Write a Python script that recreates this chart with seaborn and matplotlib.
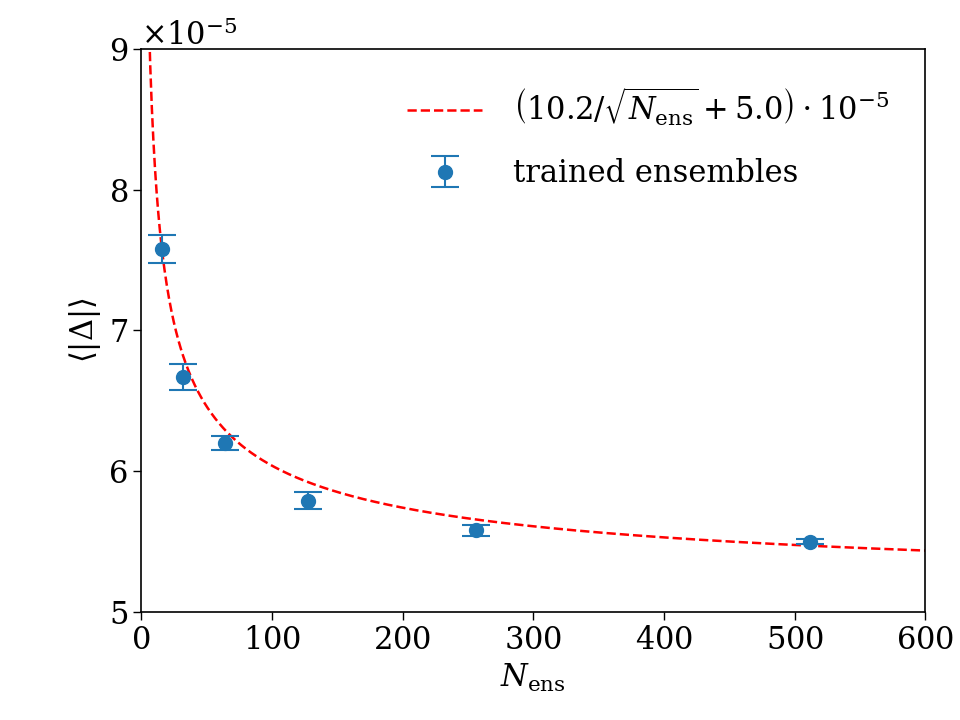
import numpy as np
import pandas as pd
import matplotlib
matplotlib.use("Agg")
import matplotlib.pyplot as plt
import seaborn as sns

# ensemble sizes and mean |Delta| (units of 1e-5)
n_ens = [16, 32, 64, 128, 256, 512]
mean_delta = [7.58, 6.67, 6.20, 5.79, 5.58, 5.50]
err_delta = [0.10, 0.09, 0.05, 0.06, 0.04, 0.02]

# fit parameters (legend shows them rounded)
fit_a = 10.2
fit_b = 5.02

sns.set_style("ticks")
plt.rcParams["font.family"] = ["DejaVu Serif"]
plt.rcParams["mathtext.fontset"] = "dejavuserif"
plt.rcParams["axes.formatter.use_mathtext"] = True
plt.rcParams["text.color"] = "black"
plt.rcParams["axes.labelcolor"] = "black"
plt.rcParams["xtick.color"] = "black"
plt.rcParams["ytick.color"] = "black"
plt.rcParams["xtick.direction"] = "out"
plt.rcParams["ytick.direction"] = "out"

fig, ax = plt.subplots(figsize=(9.6, 7.2), dpi=100)
fig.subplots_adjust(left=0.147, right=0.964, top=0.932, bottom=0.15)

n_fit = np.linspace(1, 600, 1000)
fit = pd.DataFrame({"N": n_fit, "D": (fit_a / np.sqrt(n_fit) + fit_b) * 1e-5})
sns.lineplot(data=fit, x="N", y="D", ax=ax, color="red", linestyle="--", linewidth=1.8,
             label=r"$\left(10.2/\sqrt{N_{\mathrm{ens}}}+5.0\right)\cdot 10^{-5}$")

ax.errorbar(n_ens, np.array(mean_delta) * 1e-5, yerr=np.array(err_delta) * 1e-5,
            fmt="o", color="#1f77b4", markersize=10, capsize=10, elinewidth=1.5,
            capthick=1.5, label="trained ensembles")

ax.set_xlim(0, 600)
ax.set_ylim(5e-5, 9e-5)
ax.set_yticks(np.arange(5, 10) * 1e-5)
ax.tick_params(labelsize=22, length=6, width=1)
ax.yaxis.get_offset_text().set_fontsize(22)
ax.set_xlabel(r"$N_{\mathrm{ens}}$", fontsize=22)
ax.set_ylabel(r"$\langle|\Delta|\rangle$", fontsize=22)
for s in ax.spines.values():
    s.set_linewidth(1.2)
    s.set_color("black")

ax.legend(loc="upper right", frameon=False, fontsize=22, handlelength=2.45,
          handletextpad=1.0, labelspacing=1.0, borderaxespad=0.8)
fig.savefig("out.png", dpi=100)
